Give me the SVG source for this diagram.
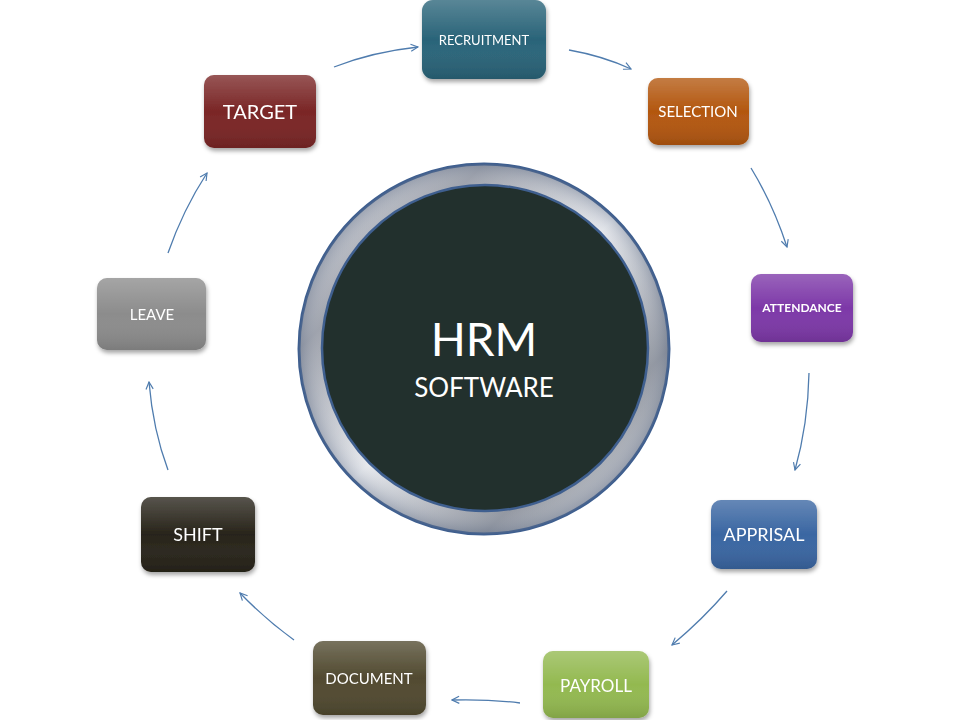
<svg xmlns="http://www.w3.org/2000/svg" width="960" height="720" viewBox="0 0 960 720">
<defs>
<style>
.lbl{font-family:Lato,"Open Sans","Liberation Sans",sans-serif;fill:#ffffff;text-anchor:middle;dominant-baseline:central}
.box{filter:url(#sh)}
.con path{fill:none;stroke:#4f7cae;stroke-width:1.3;marker-end:url(#ah)}
</style>
<filter id="sh" x="-20%" y="-20%" width="140%" height="150%">
<feDropShadow dx="1" dy="3" stdDeviation="2" flood-color="#000" flood-opacity="0.35"/>
</filter>
<linearGradient id="gloss" x1="0" y1="0" x2="0" y2="1">
<stop offset="0" stop-color="#fff" stop-opacity="0.22"/>
<stop offset="0.5" stop-color="#fff" stop-opacity="0"/>
<stop offset="1" stop-color="#000" stop-opacity="0.12"/>
</linearGradient>
<linearGradient id="ring" x1="0" y1="0" x2="1" y2="1">
<stop offset="0" stop-color="#f4f5f8"/>
<stop offset="0.25" stop-color="#9a9ea8"/>
<stop offset="0.5" stop-color="#e8eaee"/>
<stop offset="0.75" stop-color="#8d929c"/>
<stop offset="1" stop-color="#f0f1f4"/>
</linearGradient>
<radialGradient id="ring2" cx="0.5" cy="0.5" r="0.5">
<stop offset="0.85" stop-color="#ffffff" stop-opacity="0"/>
<stop offset="1" stop-color="#5a6a86" stop-opacity="0.35"/>
</radialGradient>
<marker id="ah" viewBox="0 0 10 10" refX="9" refY="5" markerWidth="9" markerHeight="9" orient="auto" markerUnits="userSpaceOnUse">
<path d="M1,1 L9,5 L1,9" fill="none" stroke="#4f7cae" stroke-width="1.3"/>
</marker>
</defs>
<rect width="960" height="720" fill="#ffffff"/>

<g id="hub">
<circle cx="484" cy="349" r="185" fill="url(#ring)" stroke="#3f5f8f" stroke-width="3"/>
<circle cx="484" cy="349" r="185" fill="url(#ring2)"/>
<circle cx="485" cy="348" r="163" fill="#22302d" stroke="#3f5f8f" stroke-width="2.5"/>
<text class="lbl" x="484" y="338" font-size="46">HRM</text>
<text class="lbl" x="484" y="387" font-size="26">SOFTWARE</text>
</g>

<g class="con" id="connectors">
<path d="M334,67 Q372,52 418,47"/>
<path d="M569,50 Q603,56 631,69"/>
<path d="M751,168 Q773,204 787,247"/>
<path d="M809,373 Q808,424 795,470"/>
<path d="M727,591 Q703,619 672,645"/>
<path d="M520,703 Q487,699 452,700"/>
<path d="M294,640 Q265,619 240,593"/>
<path d="M168,470 Q153,430 149,382"/>
<path d="M168,253 Q183,210 207,173"/>
</g>

<g id="recruitment" class="box">
<rect x="422" y="0" width="124" height="79" rx="11" fill="#2a6479"/>
<rect x="422" y="0" width="124" height="79" rx="11" fill="url(#gloss)"/>
<text class="lbl" x="484" y="40" font-size="13">RECRUITMENT</text>
</g>
<g id="selection" class="box">
<rect x="648" y="78" width="101" height="67" rx="10" fill="#b3570f"/>
<rect x="648" y="78" width="101" height="67" rx="10" fill="url(#gloss)"/>
<text class="lbl" x="698" y="111" font-size="15">SELECTION</text>
</g>
<g id="attendance" class="box">
<rect x="751" y="274" width="102" height="68" rx="10" fill="#7d38a8"/>
<rect x="751" y="274" width="102" height="68" rx="10" fill="url(#gloss)"/>
<text class="lbl" x="802" y="307" font-size="12" font-weight="bold">ATTENDANCE</text>
</g>
<g id="apprisal" class="box">
<rect x="711" y="500" width="106" height="69" rx="10" fill="#3a66a2"/>
<rect x="711" y="500" width="106" height="69" rx="10" fill="url(#gloss)"/>
<text class="lbl" x="764" y="534" font-size="18">APPRISAL</text>
</g>
<g id="payroll" class="box">
<rect x="543" y="651" width="106" height="67" rx="10" fill="#93b950"/>
<rect x="543" y="651" width="106" height="67" rx="10" fill="url(#gloss)"/>
<text class="lbl" x="596" y="685" font-size="17">PAYROLL</text>
</g>
<g id="document" class="box">
<rect x="313" y="641" width="113" height="74" rx="10" fill="#514a30"/>
<rect x="313" y="641" width="113" height="74" rx="10" fill="url(#gloss)"/>
<text class="lbl" x="369" y="678" font-size="15">DOCUMENT</text>
</g>
<g id="shift" class="box">
<rect x="141" y="497" width="114" height="75" rx="10" fill="#28241a"/>
<rect x="141" y="497" width="114" height="75" rx="10" fill="url(#gloss)"/>
<text class="lbl" x="198" y="534" font-size="18">SHIFT</text>
</g>
<g id="leave" class="box">
<rect x="97" y="278" width="109" height="72" rx="10" fill="#8c8c8c"/>
<rect x="97" y="278" width="109" height="72" rx="10" fill="url(#gloss)"/>
<text class="lbl" x="152" y="314" font-size="15">LEAVE</text>
</g>
<g id="target" class="box">
<rect x="204" y="75" width="112" height="73" rx="10" fill="#7a2626"/>
<rect x="204" y="75" width="112" height="73" rx="10" fill="url(#gloss)"/>
<text class="lbl" x="260" y="111" font-size="20">TARGET</text>
</g>
</svg>
